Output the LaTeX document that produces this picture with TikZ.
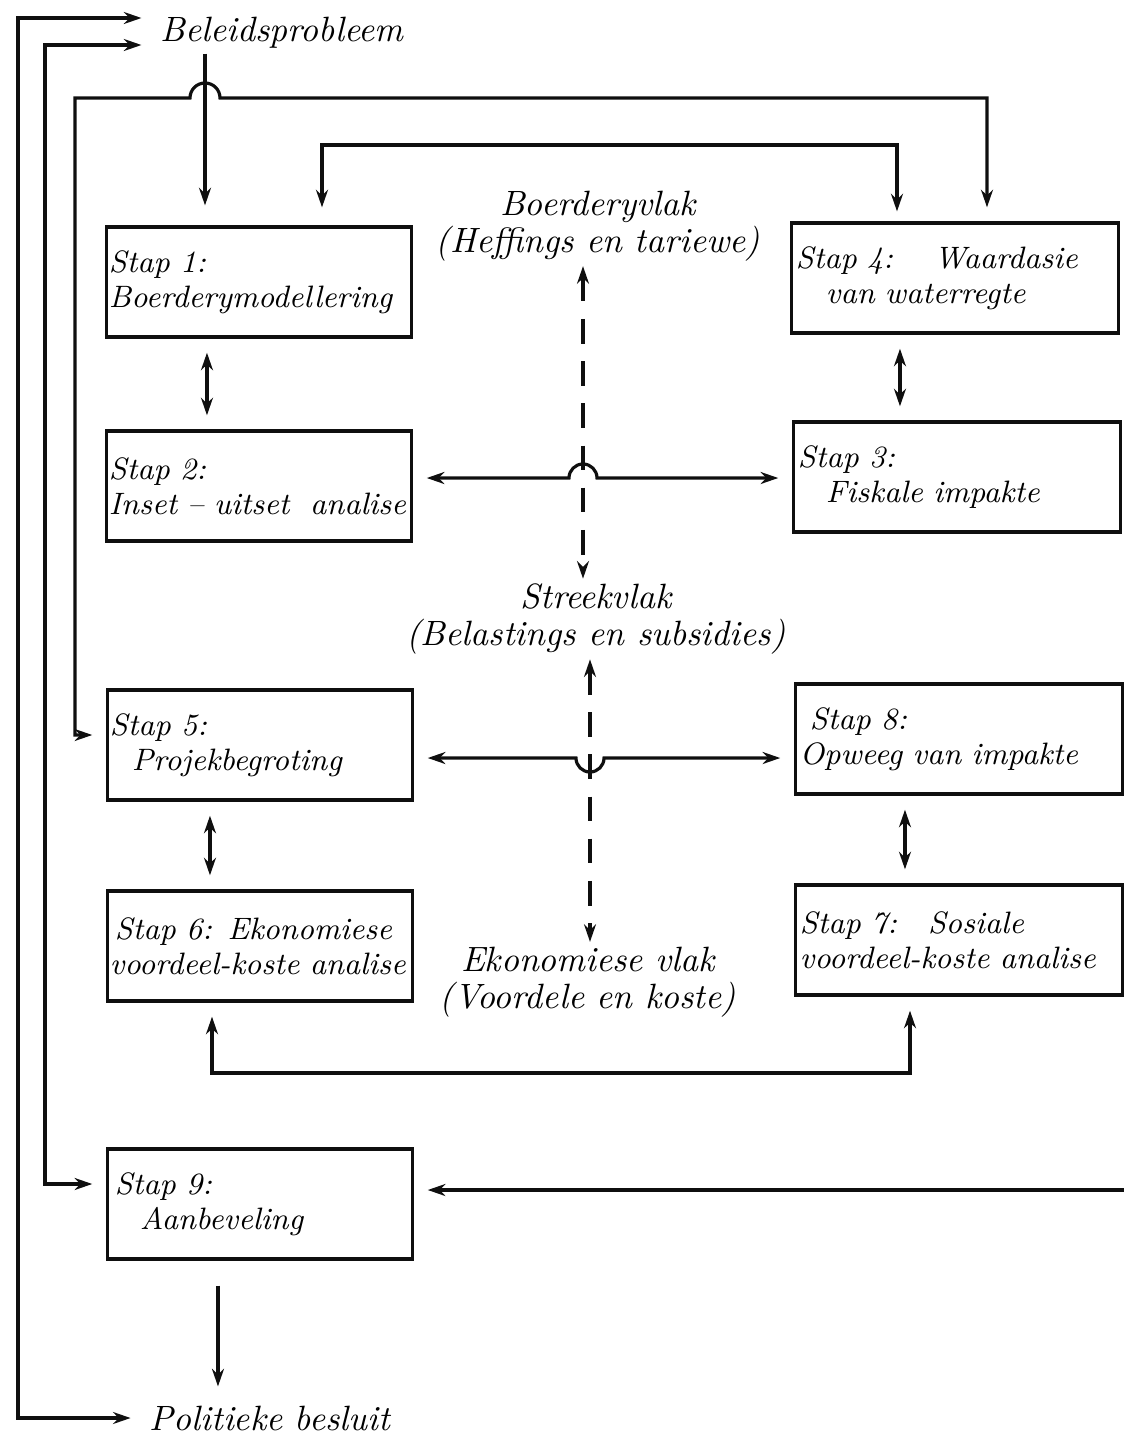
\documentclass[tikz,border=0pt]{standalone}
\usepackage{tikz}
\usetikzlibrary{arrows.meta, positioning, calc}
\definecolor{ink}{RGB}{15, 15, 15}

\begin{document}
\begin{tikzpicture}[
    x=0.01cm, y=-0.01cm,
    >={Stealth[length=5pt, width=3.4pt]},
    line width=0.9pt,
    block/.style={
        draw=ink,
        line width=0.9pt,
        align=left,
        minimum height=1.1cm,
        inner xsep=0.02cm,
        font=\itshape\fontsize{8.8}{10}\selectfont
    },
    leftbox/.style={block, minimum width=3.04cm, text width=3.0cm},
    rightbox/.style={block, minimum width=3.26cm, text width=3.18cm},
    lbl/.style={align=center, inner sep=1pt, font=\itshape\fontsize{10}{10.5}\selectfont},
    arrow/.style={<->, color=ink, shorten <=4pt, shorten >=4pt},
    oneway/.style={->, color=ink, shorten >=4pt},
    vlakline/.style={<->, color=ink, dash pattern=on 7pt off 5pt}
]
\useasboundingbox (0,0) rectangle (1124,1436);

% Start and end
\node[lbl] (prob) at (282, 33) {Beleidsprobleem};
\node[lbl] (besluit) at (270, 1418) {Politieke besluit};

% Steps, left column
\node[leftbox] (s1) at (259, 282) {Stap 1:\\Boerderymodellering};
\node[leftbox] (s2) at (259, 486) {Stap 2:\\Inset -- uitset\ \ analise};
\node[leftbox] (s5) at (260, 745) {Stap 5:\\\hspace*{0.22cm}Projekbegroting};
\node[leftbox] (s6) at (260, 946) {\hspace*{0.05cm}Stap 6: Ekonomiese\\voordeel-koste analise};
\node[leftbox] (s9) at (260, 1204) {\hspace*{0.05cm}Stap 9:\\\hspace*{0.3cm}Aanbeveling};

% Steps, right column
\node[rightbox] (s4) at (955, 278) {Stap 4:\quad\ Waardasie\\\hspace*{0.3cm}van waterregte};
\node[rightbox] (s3) at (957, 477) {Stap 3:\\\hspace*{0.28cm}Fiskale impakte};
\node[rightbox] (s8) at (959, 739) {\hspace*{0.1cm}Stap 8:\\Opweeg van impakte};
\node[rightbox] (s7) at (959, 940) {Stap 7:\quad Sosiale\\voordeel-koste analise};

% Levels in the middle
\node[lbl] (vlak1) at (598, 226) {Boerderyvlak\\(Heffings\ en\ tariewe)};
\node[lbl] (vlak2) at (596, 619) {Streekvlak\\(Belastings en subsidies)};
\node[lbl] (vlak3) at (588, 982) {Ekonomiese vlak\\(Voordele en koste)};

% Crossings and corners
\coordinate (jmp0) at (205, 98);
\coordinate (jmp1) at (583, 478);
\coordinate (jmp2) at (590, 758);
\coordinate (c1) at (322, 145);
\coordinate (c2) at (897, 145);
\coordinate (c4) at (987, 98);
\coordinate (c5) at (75, 98);
\coordinate (o1) at (18, 18);
\coordinate (o2) at (45, 45);
\coordinate (b6) at (212, 1073);
\coordinate (b7) at (910, 1073);
\coordinate (r9) at (1124, 1190);

% Feedback loops on the left
\draw[arrow] (besluit.west) -| (o1) -- (prob.west |- o1);
\draw[arrow] ([yshift=0.2cm]s9.west) -| (o2) -- (prob.west |- o2);
\draw[arrow] (s4.north -| c4) -- (c4) -- ([xshift=0.15cm]jmp0)
    arc[start angle=0, end angle=180, radius=0.15cm] -- (c5) |- ([yshift=0.1cm]s5.west);
\draw[oneway, shorten >=0.2cm] (prob.south -| jmp0) -- (s1.north -| jmp0);
\draw[arrow, shorten <=0.18cm, shorten >=0.1cm] (s1.north -| c1) -- (c1) -- (c2) -- (s4.north -| c2);

% Links between steps
\draw[arrow] ([xshift=-0.52cm]s1.south) -- ([xshift=-0.52cm]s1.south |- s2.north);
\draw[arrow] ([xshift=-0.55cm]s4.south) -- ([xshift=-0.55cm]s4.south |- s3.north);
\draw[arrow] ([xshift=-0.5cm]s5.south) -- ([xshift=-0.5cm]s5.south |- s6.north);
\draw[arrow] ([xshift=-0.54cm]s8.south) -- ([xshift=-0.54cm]s8.south |- s7.north);
\draw[arrow] (s2.east |- jmp1) -- ([xshift=-0.14cm]jmp1)
    arc[start angle=180, end angle=0, radius=0.14cm] -- (s3.west |- jmp1);
\draw[arrow] (s5.east |- jmp2) -- ([xshift=-0.14cm]jmp2)
    arc[start angle=180, end angle=360, radius=0.14cm] -- (s8.west |- jmp2);
\draw[arrow] (s6.south -| b6) -- (b6) -- (b7) -- (s7.south -| b7);
\draw[oneway] (r9) -- (s9.east |- r9);
\draw[oneway, shorten <=0.25cm] ([xshift=-0.42cm]s9.south) -- ([xshift=-0.42cm]s9.south |- besluit.north);

% Dashed links between levels
\draw[vlakline] (vlak1.south -| jmp1) -- (vlak2.north -| jmp1);
\draw[vlakline] (vlak2.south -| jmp2) -- (vlak3.north -| jmp2);

\end{tikzpicture}
\end{document}
